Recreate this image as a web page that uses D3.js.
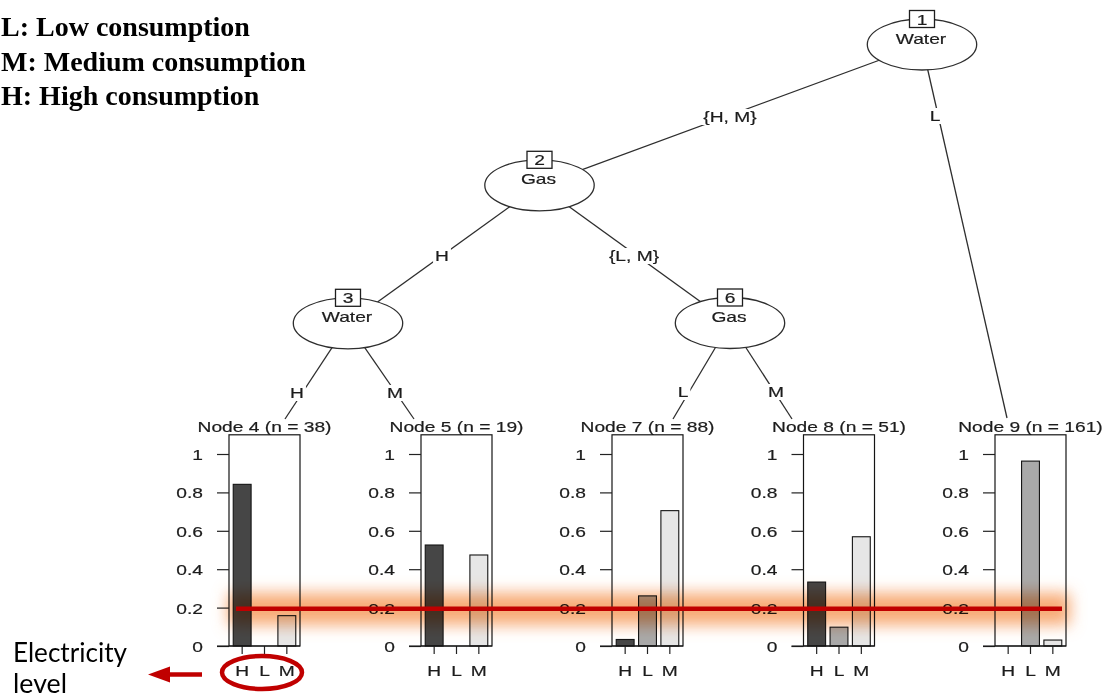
<!DOCTYPE html>
<html>
<head>
<meta charset="utf-8">
<script src="https://cdn.jsdelivr.net/npm/d3@7"></script>
<style>
  html, body { margin: 0; padding: 0; background: #fff; }
  svg { display: block; }
</style>
</head>
<body>
<script>
// ---------------- data ----------------
const levels = ["H", "L", "M"];
const nodeIds = [4, 5, 7, 8, 9];
const nodeN = [38, 19, 88, 51, 161];
const shareH = [0.842, 0.526, 0.034, 0.333, 0.0];
const shareL = [0.0, 0.0, 0.261, 0.098, 0.963];
const shareM = [0.158, 0.474, 0.705, 0.569, 0.031];
const yTicks = [0, 0.2, 0.4, 0.6, 0.8, 1];
const splitIds = [1, 2, 3, 6];
const splitVars = ["Water", "Gas", "Water", "Gas"];
const edgeFrom = [1, 1, 2, 2, 3, 3, 6, 6];
const edgeTo = [2, 9, 3, 6, 4, 5, 7, 8];
const edgeLabels = ["{H, M}", "L", "H", "{L, M}", "H", "M", "L", "M"];
const legendLines = ["L: Low consumption", "M: Medium consumption", "H: High consumption"];
const noteLines = ["Electricity", "level"];

// ---------------- layout ----------------
const W = 1106, H = 700;
const SX = 1.28;               // horizontal stretch of the picture
const FONT = "'Liberation Sans', Arial, Helvetica, sans-serif";
const splitPos = {1: [922, 44.5], 2: [539.5, 185.3], 3: [348, 323.3], 6: [730, 323]};
const panelLeft = {4: 229, 5: 421, 7: 612, 8: 803.5, 9: 995};
const panelW = 71;
const termTop = {4: [285, 419], 5: [414, 419], 7: [673, 419], 8: [792, 419], 9: [1007, 418]};
const edgeLabelPos = [[730, 117], [935, 116], [442, 256], [634, 256], [297, 393], [395, 393], [683, 392], [776, 392]];
const barFill = ["#464646", "#a9a9a9", "#e6e6e6"];
const ink = "#1c1c1c";

const svg = d3.select("body").append("svg").attr("width", W).attr("height", H);

function stext(parent, x, y, str, anchor = "middle", size = 15) {
  return parent.append("text")
    .attr("transform", `translate(${x},${y}) scale(${SX},1)`)
    .attr("text-anchor", anchor)
    .style("font-family", FONT)
    .style("font-size", size + "px")
    .attr("fill", ink)
    .attr("stroke", ink).attr("stroke-width", 0.2)
    .text(str);
}

function posOf(id) {
  return splitPos[id] ? splitPos[id] : termTop[id];
}

// ---------------- edges ----------------
const gEdges = svg.append("g");
edgeFrom.forEach((f, i) => {
  const a = posOf(f), b = posOf(edgeTo[i]);
  gEdges.append("line")
    .attr("x1", a[0]).attr("y1", a[1]).attr("x2", b[0]).attr("y2", b[1])
    .attr("stroke", "#2e2e2e").attr("stroke-width", 1.3);
});
edgeLabels.forEach((lab, i) => {
  const [x, y] = edgeLabelPos[i];
  const bg = gEdges.append("rect").attr("fill", "#fff");
  const t = stext(gEdges, x, y + 5.4, lab);
  const w = t.node().getComputedTextLength() * SX;
  bg.attr("x", x - w / 2 - 2).attr("y", y - 8).attr("width", w + 4).attr("height", 16);
});

// ---------------- inner nodes ----------------
const gInner = svg.append("g");
splitIds.forEach((id, i) => {
  const [cx, cy] = splitPos[id];
  gInner.append("ellipse")
    .attr("cx", cx).attr("cy", cy).attr("rx", 54.7).attr("ry", 25.5)
    .attr("fill", "#fff").attr("stroke", "#2e2e2e").attr("stroke-width", 1.3);
  stext(gInner, cx - 1, cy - 1, splitVars[i]);
  const top = cy - 25.5;
  gInner.append("rect")
    .attr("x", cx - 12.5).attr("y", top - 8.5).attr("width", 25).attr("height", 17)
    .attr("fill", "#fff").attr("stroke", "#1e1e1e").attr("stroke-width", 1.3);
  stext(gInner, cx, top + 5.5, String(id));
});

// ---------------- terminal panels ----------------
const y = d3.scaleLinear().domain([0, 1.1]).range([646, 434.8]);
const gTerm = svg.append("g");
nodeIds.forEach((id, i) => {
  const left = panelLeft[id];
  const right = left + panelW;
  const vals = [shareH[i], shareL[i], shareM[i]];
  const x = d3.scaleBand().domain(levels).range([left + 2, right - 2])
    .paddingInner(0.2).paddingOuter(0.1);
  const g = gTerm.append("g");

  stext(g, left + panelW / 2, 431.7, `Node ${id} (n = ${nodeN[i]})`);

  // bars
  g.selectAll("rect.bar").data(levels.map((l, k) => ({l, v: vals[k], k})).filter(d => d.v > 0))
    .join("rect").attr("class", "bar")
    .attr("x", d => x(d.l)).attr("width", x.bandwidth())
    .attr("y", d => y(d.v)).attr("height", d => y(0) - y(d.v))
    .attr("fill", d => barFill[d.k]).attr("stroke", "#141414").attr("stroke-width", 1.1);

  // frame
  g.append("rect")
    .attr("x", left).attr("y", y(1.1)).attr("width", panelW).attr("height", y(0) - y(1.1))
    .attr("fill", "none").attr("stroke", "#141414").attr("stroke-width", 1.2);

  // left axis
  const ga = g.append("g").attr("transform", `translate(${left},0)`)
    .call(d3.axisLeft(y).tickValues(yTicks).tickSize(12).tickFormat(d => d === 0 ? "0" : d3.format("")(d)));
  ga.select(".domain").remove();
  ga.selectAll(".tick line").attr("stroke", "#222").attr("stroke-width", 1.2);
  ga.selectAll(".tick text")
    .attr("x", -26 / SX).attr("dy", "0.36em")
    .attr("transform", `scale(${SX},1)`)
    .style("font-family", FONT).style("font-size", "15px")
    .attr("fill", ink).attr("stroke", ink).attr("stroke-width", 0.2);

  // bottom axis
  const gb = g.append("g").attr("transform", `translate(0,${y(0)})`)
    .call(d3.axisBottom(x).tickSize(8).tickPadding(0));
  gb.select(".domain").remove();
  gb.selectAll(".tick line").attr("stroke", "#222").attr("stroke-width", 1.2);
  gb.selectAll(".tick text")
    .attr("y", 30).attr("dy", 0)
    .attr("transform", `scale(${SX},1)`)
    .style("font-family", FONT).style("font-size", "15px")
    .attr("fill", ink).attr("stroke", ink).attr("stroke-width", 0.2);
  g.append("line").attr("x1", left - 12).attr("x2", right).attr("y1", y(0)).attr("y2", y(0))
    .attr("stroke", "#141414").attr("stroke-width", 1.2);
});

// ---------------- legend text ----------------
const gLeg = svg.append("g");
legendLines.forEach((s, i) => {
  gLeg.append("text")
    .attr("x", 1).attr("y", 36 + i * 34.5)
    .attr("text-anchor", "start")
    .style("font-family", "'Liberation Serif', 'Times New Roman', serif")
    .style("font-weight", "bold").style("font-size", "28px")
    .attr("fill", "#000").text(s);
});

// ---------------- annotation overlay ----------------
const defs = svg.append("defs");
const f = defs.append("filter").attr("id", "glow")
  .attr("x", "-10%").attr("y", "-150%").attr("width", "120%").attr("height", "400%");
f.append("feGaussianBlur").attr("stdDeviation", 7.5);

const gOv = svg.append("g");
gOv.append("rect")
  .attr("x", 228).attr("y", 593).attr("width", 842).attr("height", 32)
  .attr("fill", "#f7a267").attr("opacity", 0.9)
  .attr("filter", "url(#glow)")
  .style("mix-blend-mode", "multiply");
gOv.append("line")
  .attr("x1", 236).attr("x2", 1062).attr("y1", y(0.2) + 1.2).attr("y2", y(0.2) + 1.2)
  .attr("stroke", "#c00000").attr("stroke-width", 4.5);
gOv.append("ellipse")
  .attr("cx", 262).attr("cy", 672.5).attr("rx", 40).attr("ry", 16.5)
  .attr("fill", "none").attr("stroke", "#c00000").attr("stroke-width", 4.5);
gOv.append("line")
  .attr("x1", 202).attr("x2", 166).attr("y1", 674.5).attr("y2", 674.5)
  .attr("stroke", "#c00000").attr("stroke-width", 4.5);
gOv.append("path")
  .attr("d", d3.line()([[148, 674.5], [170, 666.5], [170, 682.5]]) + "Z")
  .attr("fill", "#c00000");
const noteBase = [662, 693];
const noteLen = [114, 54];
noteLines.forEach((s, i) => {
  gOv.append("text")
    .attr("x", 13).attr("y", noteBase[i])
    .attr("textLength", noteLen[i]).attr("lengthAdjust", "spacingAndGlyphs")
    .style("font-family", "Lato, 'Open Sans', sans-serif")
    .style("font-size", "26px").attr("fill", "#000").text(s);
});
</script>
</body>
</html>
